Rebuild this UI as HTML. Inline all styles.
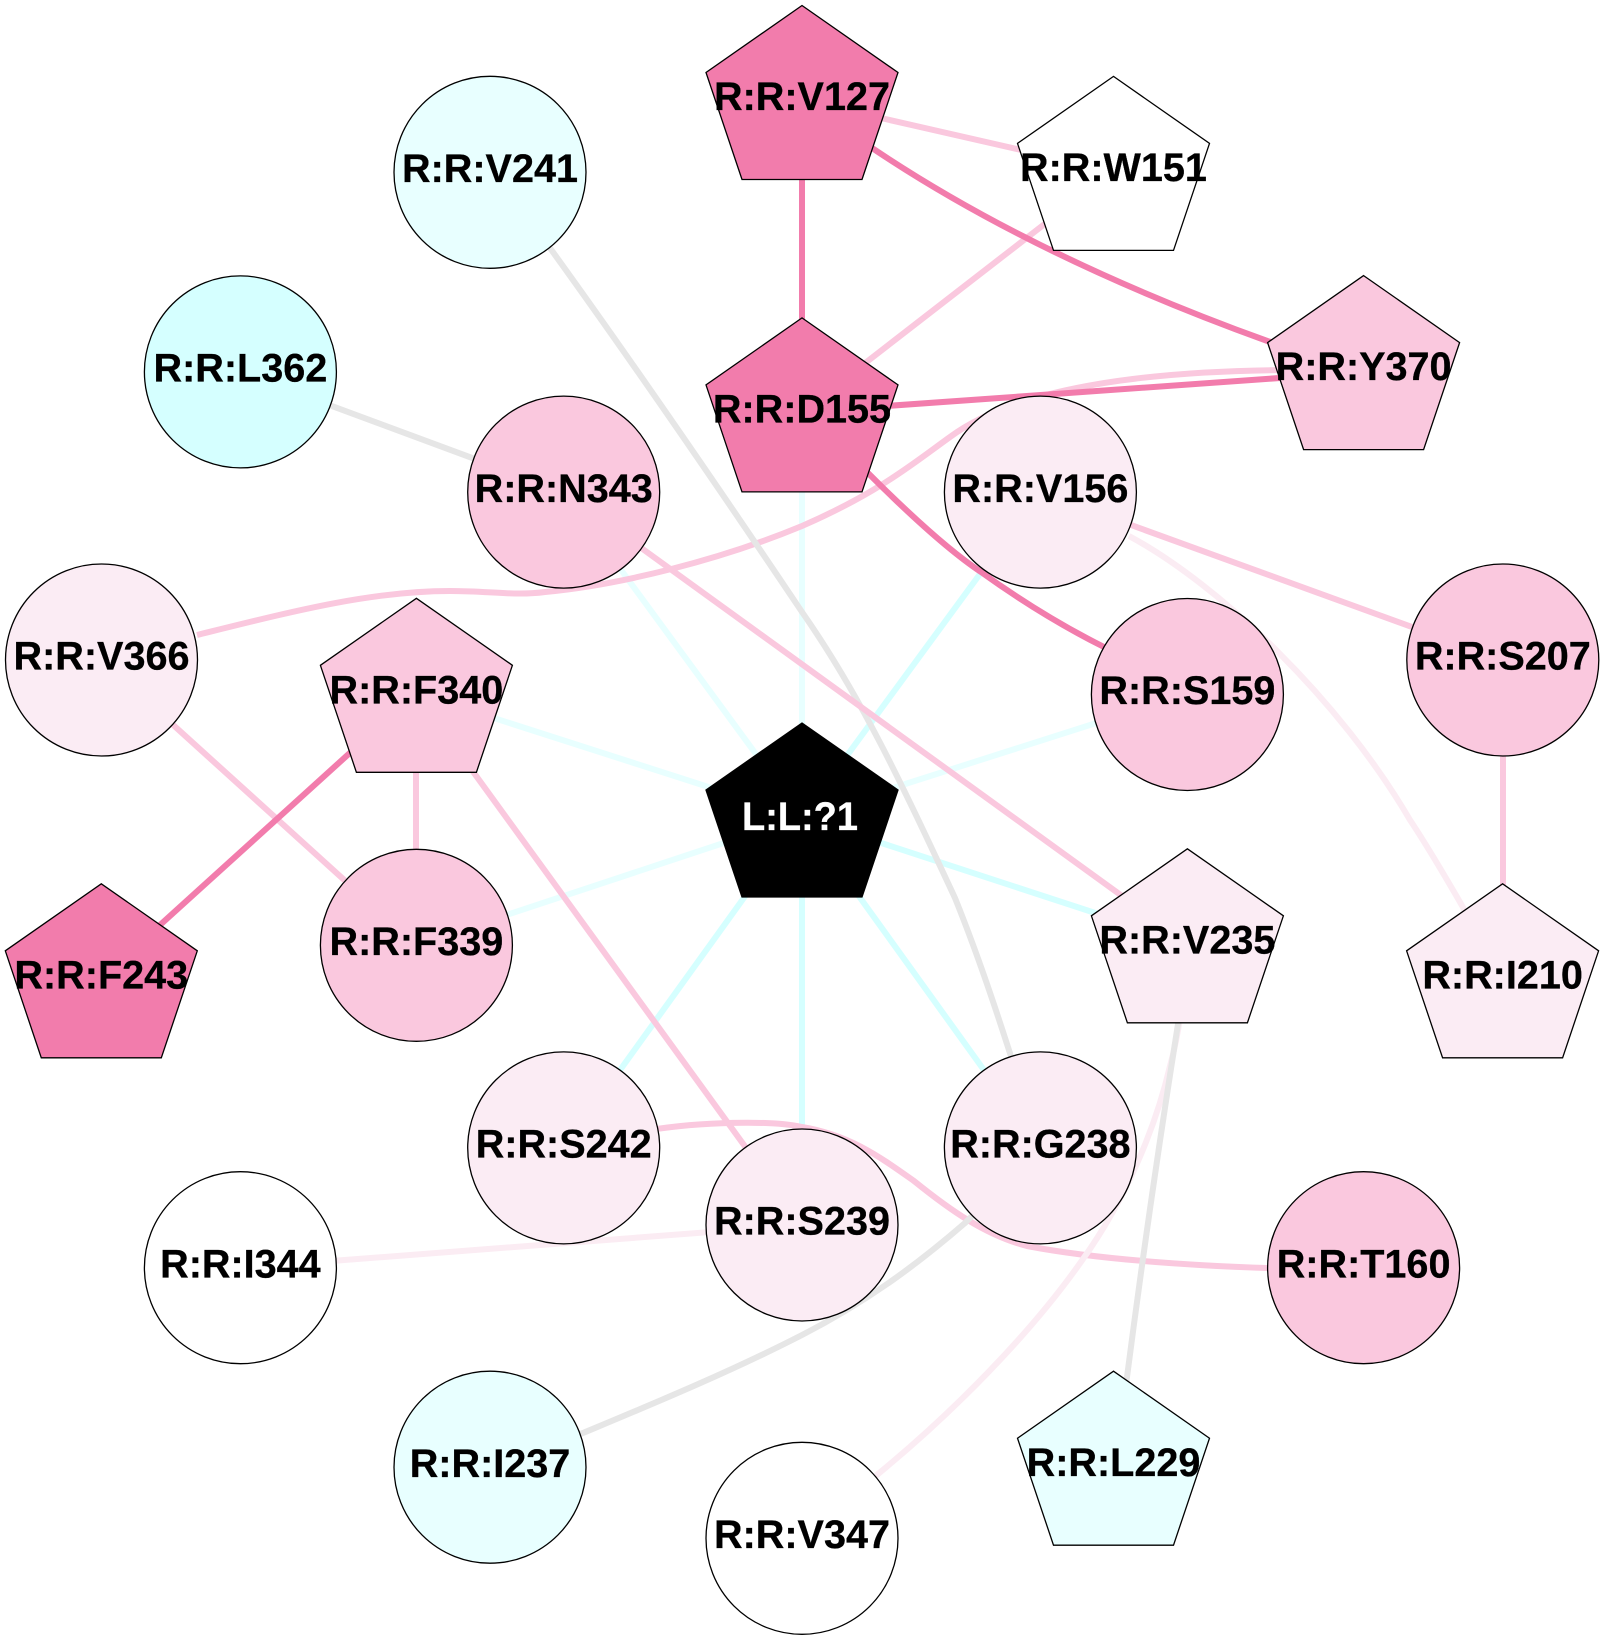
<!DOCTYPE html>
<html><head><meta charset="utf-8"><style>
html,body{margin:0;padding:0;background:#fff}
svg{display:block}
text{font-family:"Liberation Sans",Arial,sans-serif;font-weight:bold;font-size:39.6px;text-anchor:middle;fill:#000;stroke:#000;stroke-width:.3}
.n{stroke:#000;stroke-width:1.3}
.e{fill:none;stroke-width:6}
.cs{stroke:#d5ffff}.cl{stroke:#e8ffff}.g{stroke:#e6e6e6}.p{stroke:#fac8de}.s{stroke:#f27cac}.q{stroke:#fbecf3}
</style></head><body>
<svg xmlns="http://www.w3.org/2000/svg" width="1604" height="1640" viewBox="0 0 1604 1640">
<defs><polygon id="pent" points="0,0 96,67 60,174 -60,174 -96,67"/></defs>
<g class="e">
<path class="cl" d="M802,817L802,412"/>
<path class="cl" d="M802,817L564,492"/>
<path class="cl" d="M802,817L416,693"/>
<path class="cl" d="M802,817L416,945"/>
<path class="cl" d="M802,817L1187,694"/>
<path class="cs" d="M802,817L1040,492"/>
<path class="cs" d="M802,817L1187,943"/>
<path class="cs" d="M802,817L1040,1148"/>
<path class="cs" d="M802,817L802,1225"/>
<path class="cs" d="M802,817L564,1148"/>
<path class="p" d="M650,1130C700,1122 770,1120 802,1127C850,1135 880,1157 914,1181C950,1210 985,1235 1027,1246C1090,1258 1180,1266 1300,1269"/>
<path class="q" d="M1187,943C1185,990 1180,1030 1170,1066C1155,1130 1125,1200 1083,1259C1030,1335 950,1415 878,1474L802,1538"/>
<path class="q" d="M1129,536C1220,585 1340,700 1410,820Q1440,865 1503,978"/>
<path class="q" d="M240,1268L802,1225"/>
<path class="p" d="M802,100L1113,171"/>
<path class="p" d="M802,412L1113,171"/>
<path class="p" d="M197,635C290,612 370,591 450,591C490,591 515,596 545,592C620,585 720,560 802,526C880,492 915,462 950,437C1000,400 1100,370 1300,370"/>
<path class="g" d="M490,172L550,248C620,345 700,460 802,612C860,695 900,780 955,898C980,960 1000,1020 1040,1148"/>
<path class="g" d="M240,372L564,492"/>
<path class="g" d="M1187,943L1178,1024Q1150,1200 1127,1377L1113,1465"/>
<path class="g" d="M1040,1148L965,1223C920,1262 870,1300 802,1335C730,1372 650,1405 583,1433L490,1467"/>
<path class="p" d="M564,492L1187,943"/>
<path class="p" d="M1040,492L1503,660"/>
<path class="p" d="M1503,660L1503,978"/>
<path class="p" d="M101.5,660L416,945"/>
<path class="p" d="M416,693L416,945"/>
<path class="p" d="M416,693L802,1225"/>
<path class="s" d="M802,100L802,412"/>
<path class="s" d="M802,100L873.6,149Q1034.7,257 1267.4,341L1364,370"/>
<path class="s" d="M802,412L1364,372"/>
<path class="s" d="M802,412L868,473C900,505 945,548 981,572C1020,600 1060,625 1104,647L1187,694.5"/>
<path class="s" d="M416,693L101.5,978"/>
</g>
<g class="n">
<circle cx="490" cy="172.3" r="96" fill="#e8ffff"/>
<circle cx="240.4" cy="371.9" r="96" fill="#d5ffff"/>
<circle cx="563.7" cy="492.1" r="96" fill="#fac8de"/>
<circle cx="101.5" cy="660" r="96" fill="#fbecf4"/>
<circle cx="1040.4" cy="492.1" r="96" fill="#fbecf4"/>
<circle cx="1187.4" cy="694.5" r="96" fill="#fac8de"/>
<circle cx="1502.8" cy="660" r="96" fill="#fac8de"/>
<circle cx="416.4" cy="945.3" r="96" fill="#fac8de"/>
<circle cx="563.7" cy="1147.9" r="96" fill="#fbecf4"/>
<circle cx="240.4" cy="1267.7" r="96" fill="#fff"/>
<circle cx="490" cy="1467.2" r="96" fill="#e8ffff"/>
<circle cx="802" cy="1225" r="96" fill="#fbecf4"/>
<circle cx="802" cy="1538.3" r="96" fill="#fff"/>
<circle cx="1040.4" cy="1147.9" r="96" fill="#fbecf4"/>
<circle cx="1363.6" cy="1267.7" r="96" fill="#fac8de"/>
<use href="#pent" x="802" y="5.5" fill="#f27cac"/>
<use href="#pent" x="1113.5" y="76.4" fill="#fff"/>
<use href="#pent" x="1363.6" y="275.6" fill="#fac8de"/>
<use href="#pent" x="802" y="317.9" fill="#f27cac"/>
<use href="#pent" x="416.4" y="598.3" fill="#fac8de"/>
<use href="#pent" x="101.3" y="883.8" fill="#f27cac"/>
<use href="#pent" x="1187.4" y="848.8" fill="#fbecf4"/>
<use href="#pent" x="1502.6" y="883.8" fill="#fbecf4"/>
<use href="#pent" x="1113.5" y="1371.2" fill="#e8ffff"/>
<use href="#pent" x="802" y="723" fill="#000"/>
</g>
<g transform="translate(0,-1)">
<text x="490" y="183">R:R:V241</text>
<text x="240.4" y="382.6">R:R:L362</text>
<text x="563.7" y="502.8">R:R:N343</text>
<text x="101.5" y="670.7">R:R:V366</text>
<text x="1040.4" y="502.8">R:R:V156</text>
<text x="1187.4" y="705.2">R:R:S159</text>
<text x="1502.8" y="670.7">R:R:S207</text>
<text x="416.4" y="956">R:R:F339</text>
<text x="563.7" y="1158.6">R:R:S242</text>
<text x="240.4" y="1278.4">R:R:I344</text>
<text x="490" y="1477.9">R:R:I237</text>
<text x="802" y="1235.7">R:R:S239</text>
<text x="802" y="1549">R:R:V347</text>
<text x="1040.4" y="1158.6">R:R:G238</text>
<text x="1363.6" y="1278.4">R:R:T160</text>
<text x="802" y="111">R:R:V127</text>
<text x="1113.5" y="182">R:R:W151</text>
<text x="1363.6" y="381.2">R:R:Y370</text>
<text x="802" y="423.5">R:R:D155</text>
<text x="416.4" y="704.5">R:R:F340</text>
<text x="101.3" y="989.4">R:R:F243</text>
<text x="1187.4" y="954.4">R:R:V235</text>
<text x="1502.6" y="989.4">R:R:I210</text>
<text x="1113.5" y="1476.8">R:R:L229</text>
</g>
<text x="800" y="830" textLength="116" lengthAdjust="spacingAndGlyphs" style="fill:#fff;stroke:#fff">L:L:?1</text>
</svg>
</body></html>
